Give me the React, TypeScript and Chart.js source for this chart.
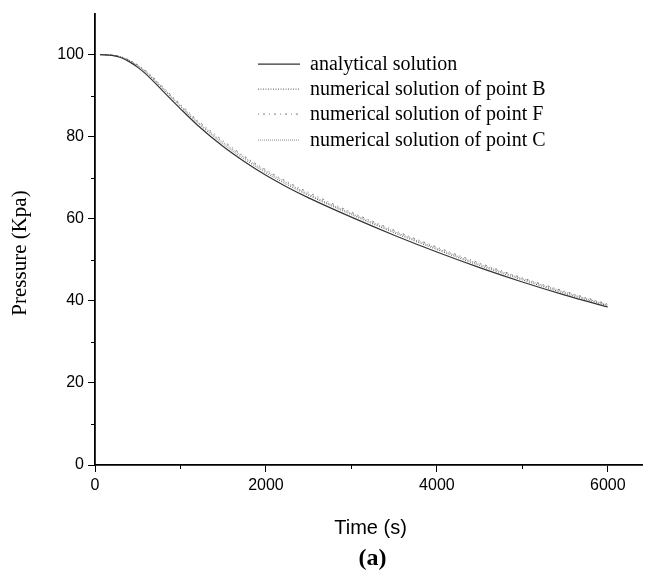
import React, { useEffect, useRef } from "react";
import { Chart, registerables } from "chart.js";

Chart.register(...registerables);

const times = [60, 200, 300, 400, 500, 600, 800, 1000, 1200, 1500, 1750, 2000, 2250, 2500, 3000, 3500, 4000, 4500, 5000, 5500, 6000];
const analytical = [100, 99.8, 99.3, 98.3, 96.9, 95.2, 91.0, 86.8, 82.8, 77.6, 73.9, 70.6, 67.7, 65.1, 60.4, 56.0, 51.9, 48.1, 44.6, 41.4, 38.5];
const pointB = [100, 99.8, 99.4, 98.5, 97.2, 95.6, 91.5, 87.3, 83.4, 78.2, 74.5, 71.2, 68.3, 65.7, 61.0, 56.6, 52.5, 48.6, 45.1, 41.8, 38.8];
const pointF = [100, 99.9, 99.5, 98.7, 97.5, 96.0, 92.0, 87.9, 84.0, 79.0, 75.2, 71.9, 69.0, 66.4, 61.6, 57.2, 53.1, 49.2, 45.6, 42.3, 39.2];
const pointC = [100, 99.9, 99.5, 98.6, 97.4, 95.8, 91.8, 87.6, 83.7, 78.6, 74.9, 71.6, 68.7, 66.0, 61.3, 56.9, 52.8, 48.9, 45.4, 42.1, 39.0];

const seriesLabels = [
  "analytical solution",
  "numerical solution of point B",
  "numerical solution of point F",
  "numerical solution of point C",
];

const xMajorTicks = [0, 2000, 4000, 6000];
const xMinorTicks = [1000, 3000, 5000];
const yMajorTicks = [0, 20, 40, 60, 80, 100];
const yMinorTicks = [10, 30, 50, 70, 90];

const xTitle = "Time (s)";
const yTitle = "Pressure (Kpa)";
const panelLabel = "(a)";

const styles = [
  { color: "#333333", dash: [] as number[], width: 1.2 },
  { color: "#555555", dash: [1, 1.5], width: 1 },
  { color: "#777777", dash: [1, 4, 2, 4], width: 1 },
  { color: "#8a8a8a", dash: [1, 1], width: 1 },
];

const serif = "'Liberation Serif', 'Times New Roman', serif";
const sans = "'Liberation Sans', Arial, sans-serif";

const extrasPlugin = {
  id: "extras",
  afterDraw(chart: any) {
    const ctx = chart.ctx;
    const x = chart.scales.x;
    const y = chart.scales.y;
    const area = chart.chartArea;
    ctx.save();
    ctx.strokeStyle = "#000";
    ctx.lineWidth = 1;
    // minor ticks
    ctx.beginPath();
    xMinorTicks.forEach((v) => {
      const px = Math.round(x.getPixelForValue(v)) + 0.5;
      ctx.moveTo(px, area.bottom);
      ctx.lineTo(px, area.bottom + 4);
    });
    yMinorTicks.forEach((v) => {
      const py = Math.round(y.getPixelForValue(v)) + 0.5;
      ctx.moveTo(area.left, py);
      ctx.lineTo(area.left - 4, py);
    });
    ctx.stroke();

    // legend
    const lx0 = area.left + 163;
    const lx1 = area.left + 205;
    const tx = area.left + 215;
    const rowY = [area.top + 50, area.top + 75, area.top + 100, area.top + 126];
    ctx.font = "20px " + serif;
    ctx.textBaseline = "middle";
    ctx.textAlign = "left";
    seriesLabels.forEach((lab, i) => {
      const st = styles[i];
      ctx.beginPath();
      ctx.strokeStyle = st.color;
      ctx.lineWidth = st.width;
      ctx.setLineDash(st.dash);
      ctx.moveTo(lx0, rowY[i] + 0.5);
      ctx.lineTo(lx1, rowY[i] + 0.5);
      ctx.stroke();
      ctx.setLineDash([]);
      ctx.fillStyle = "#000";
      ctx.fillText(lab, tx, rowY[i] + 1);
    });

    // axis titles
    ctx.fillStyle = "#000";
    ctx.textAlign = "center";
    ctx.textBaseline = "middle";
    ctx.font = "20px " + sans;
    ctx.fillText(xTitle, (area.left + area.right) / 2 + 2, 528);
    ctx.save();
    ctx.translate(20, 253);
    ctx.rotate(-Math.PI / 2);
    ctx.font = "21px " + serif;
    ctx.fillText(yTitle, 0, 0);
    ctx.restore();

    // panel label
    ctx.font = "bold 24px " + serif;
    ctx.fillText(panelLabel, (area.left + area.right) / 2 + 4, 559);
    ctx.restore();
  },
};

export default function App() {
  const ref = useRef<HTMLCanvasElement | null>(null);
  useEffect(() => {
    if (!ref.current) return;
    const datasets = [analytical, pointB, pointF, pointC].map((vals, i) => ({
      label: seriesLabels[i],
      data: times.map((t, j) => ({ x: t, y: vals[j] })),
      borderColor: styles[i].color,
      borderWidth: styles[i].width,
      borderDash: styles[i].dash,
      pointRadius: 0,
      cubicInterpolationMode: "monotone" as const,
      fill: false,
    }));
    const chart = new Chart(ref.current, {
      type: "line",
      data: { datasets },
      plugins: [extrasPlugin],
      options: {
        animation: false,
        responsive: false,
        layout: { padding: { top: 13, right: 3, left: 0, bottom: 0 } },
        plugins: { legend: { display: false }, tooltip: { enabled: false } },
        scales: {
          x: {
            type: "linear",
            min: 0,
            max: 6400,
            afterBuildTicks: (s: any) => {
              s.ticks = xMajorTicks.map((v) => ({ value: v }));
            },
            afterFit: (s: any) => {
              s.height = 106;
            },
            grid: { drawOnChartArea: false, drawTicks: true, tickLength: 7, color: "#000", lineWidth: 1 },
            border: { display: true, color: "#000", width: 1.8 },
            ticks: {
              color: "#000",
              padding: 4,
              maxRotation: 0,
              font: { family: sans, size: 16 },
              callback: (v: any) => String(v),
            },
          },
          y: {
            type: "linear",
            min: 0,
            max: 110,
            afterBuildTicks: (s: any) => {
              s.ticks = yMajorTicks.map((v) => ({ value: v }));
            },
            afterFit: (s: any) => {
              s.width = 95;
            },
            grid: { drawOnChartArea: false, drawTicks: true, tickLength: 7, color: "#000", lineWidth: 1 },
            border: { display: true, color: "#000", width: 1.8 },
            ticks: {
              color: "#000",
              padding: 4,
              font: { family: sans, size: 16 },
              callback: (v: any) => String(v),
            },
          },
        },
      },
    });
    return () => chart.destroy();
  }, []);
  return (
    <div style={{ position: "fixed", left: 0, top: 0, width: 645, height: 571, background: "#fff" }}>
      <canvas ref={ref} width={645} height={571} style={{ width: 645, height: 571 }} />
    </div>
  );
}
